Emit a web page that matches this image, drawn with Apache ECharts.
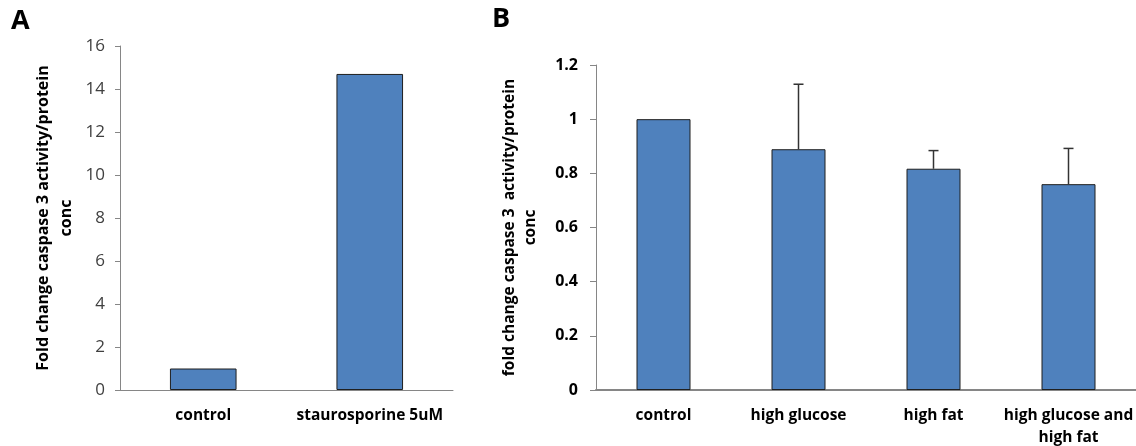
<!DOCTYPE html>
<html>
<head>
<meta charset="utf-8">
<script src="https://cdn.jsdelivr.net/npm/echarts@6/dist/echarts.min.js"></script>
<style>
  html, body { margin: 0; padding: 0; background: #fff; }
  #chart { width: 1136px; height: 446px; }
</style>
</head>
<body>
<div id="chart"></div>
<script>
// panel A
const catsA = ["control", "staurosporine 5uM"];
const valsA = [1.0, 14.7];
// panel B
const catsB = ["control", "high glucose", "high fat", "high glucose and\nhigh fat"];
const valsB = [1.0, 0.889, 0.817, 0.76];
const errB = [0, 0.24, 0.067, 0.132];

const font = "Open Sans";
const barColor = "#4f81bd";
const axisGray = "#868686";

let chartDom = document.getElementById("chart");
let mychart = echarts.init(chartDom);

let option = {
  animation: false,
  textStyle: { fontFamily: font },
  graphic: [
    { type: "text", left: 11, top: 8, style: { text: "A", font: "bold 27px " + font, fill: "#000" } },
    { type: "text", left: 492, top: 6, style: { text: "B", font: "bold 27px " + font, fill: "#000" } },
  ],
  grid: [
    { left: 120, top: 46, width: 333, height: 344, outerBoundsMode: "none" },
    { left: 596, top: 65, width: 540, height: 325, outerBoundsMode: "none" },
  ],
  xAxis: [
    {
      type: "category",
      gridIndex: 0,
      data: catsA,
      axisLine: { lineStyle: { color: axisGray, width: 1 } },
      axisTick: { length: 6, lineStyle: { color: axisGray } },
      axisLabel: { fontSize: 15.5, fontWeight: "bold", color: "#000", margin: 18, interval: 0, fontFamily: font },
    },
    {
      type: "category",
      gridIndex: 1,
      data: catsB,
      axisLine: { lineStyle: { color: axisGray, width: 2 } },
      axisTick: { length: 6, lineStyle: { color: axisGray } },
      axisLabel: { fontSize: 15.5, fontWeight: "bold", color: "#000", margin: 15, lineHeight: 22, interval: 0, fontFamily: font },
    },
  ],
  yAxis: [
    {
      type: "value",
      gridIndex: 0,
      min: 0,
      max: 16,
      interval: 2,
      splitLine: { show: false },
      axisLine: { show: true, lineStyle: { color: axisGray } },
      axisTick: { show: true, length: 5, lineStyle: { color: axisGray } },
      axisLabel: { fontSize: 17, color: "#404040", margin: 15, fontFamily: font },
      name: "Fold change caspase 3 activity/protein\nconc",
      nameLocation: "middle",
      nameGap: 42,
      nameRotate: 90,
      nameTextStyle: { fontSize: 16, fontWeight: "bold", color: "#000", lineHeight: 23, fontFamily: font },
    },
    {
      type: "value",
      gridIndex: 1,
      min: 0,
      max: 1.2,
      interval: 0.2,
      splitLine: { show: false },
      axisLine: { show: true, lineStyle: { color: axisGray } },
      axisTick: { show: true, length: 6, lineStyle: { color: axisGray } },
      axisLabel: { fontSize: 16, fontWeight: "bold", color: "#000", margin: 18, fontFamily: font },
      name: "fold change caspase 3  activity/protein\nconc",
      nameLocation: "middle",
      nameGap: 55,
      nameRotate: 90,
      nameTextStyle: { fontSize: 15.5, fontWeight: "bold", color: "#000", lineHeight: 21, fontFamily: font },
    },
  ],
  series: [
    {
      type: "bar",
      xAxisIndex: 0,
      yAxisIndex: 0,
      data: valsA,
      barWidth: "40%",
      itemStyle: { color: barColor, borderColor: "#1f1f1f", borderWidth: 1 },
    },
    {
      type: "bar",
      xAxisIndex: 1,
      yAxisIndex: 1,
      data: valsB,
      barWidth: "40%",
      itemStyle: { color: barColor, borderColor: "#1f1f1f", borderWidth: 1 },
      z: 2,
    },
    {
      type: "custom",
      xAxisIndex: 1,
      yAxisIndex: 1,
      z: 1,
      data: valsB.map(function (v, i) { return [i, v, v + errB[i]]; }),
      renderItem: function (params, api) {
        if (api.value(2) <= api.value(1)) return null;
        var lo = api.coord([api.value(0), api.value(1)]);
        var hi = api.coord([api.value(0), api.value(2)]);
        var cap = 5;
        var st = { stroke: "#333", lineWidth: 1.5 };
        return {
          type: "group",
          children: [
            { type: "line", shape: { x1: lo[0], y1: lo[1], x2: hi[0], y2: hi[1] }, style: st },
            { type: "line", shape: { x1: hi[0] - cap, y1: hi[1], x2: hi[0] + cap, y2: hi[1] }, style: st },
          ],
        };
      },
    },
  ],
};
mychart.setOption(option);
</script>
</body>
</html>
